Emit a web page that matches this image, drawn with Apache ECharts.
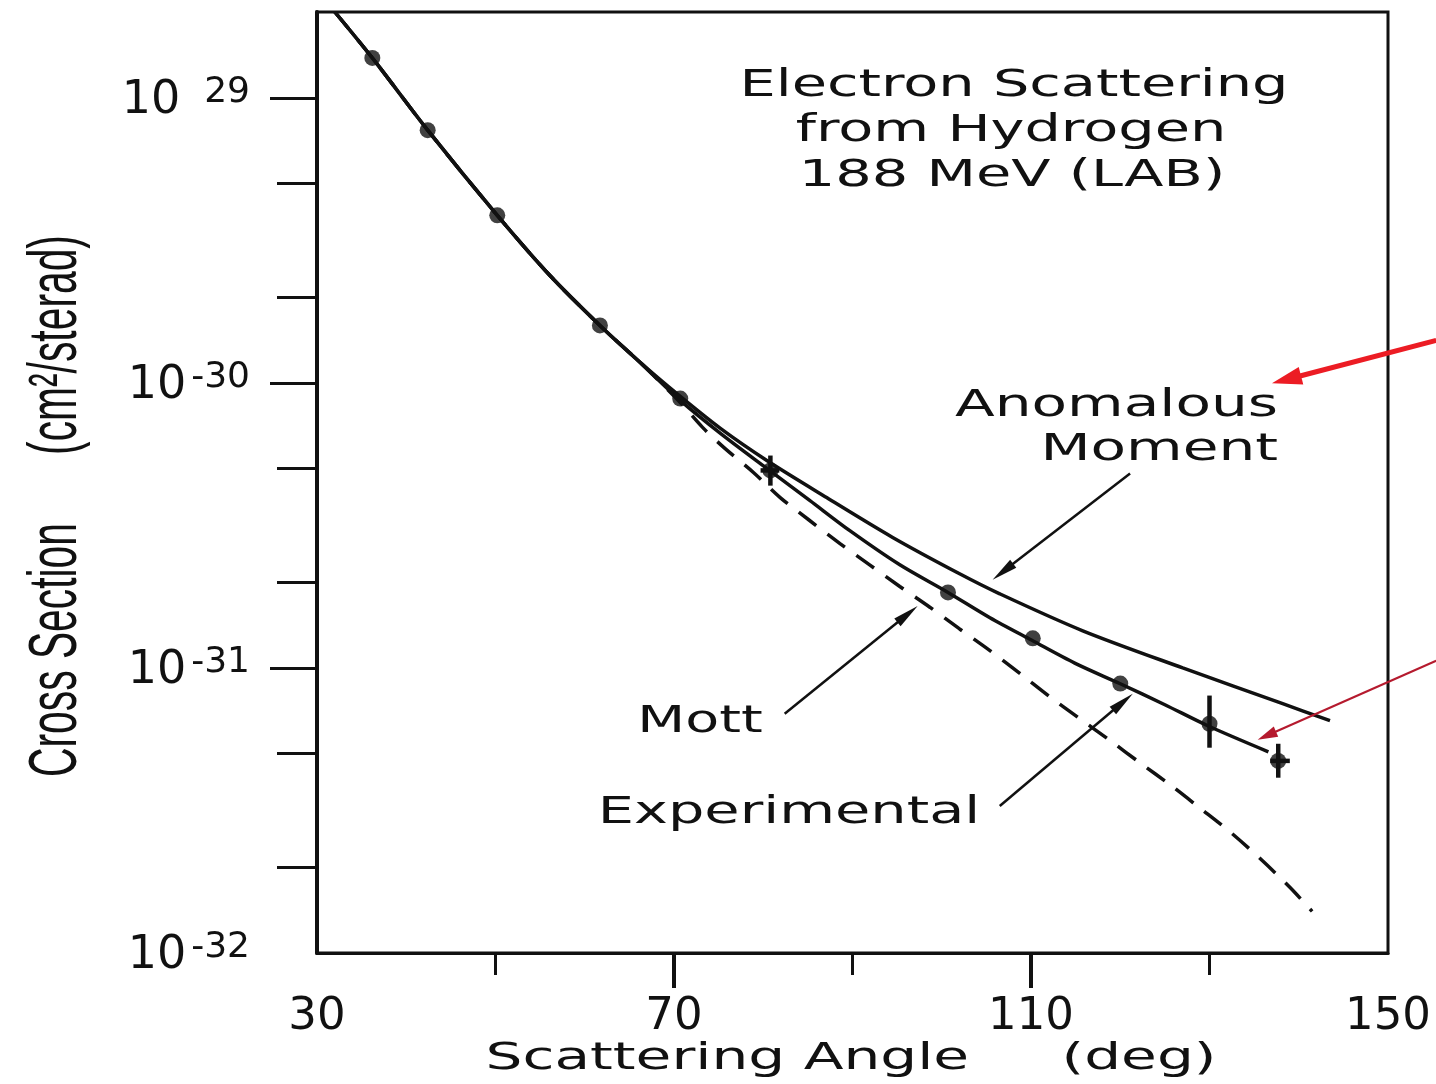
<!DOCTYPE html>
<html>
<head>
<meta charset="utf-8">
<script src="https://cdn.jsdelivr.net/npm/echarts@6/dist/echarts.min.js"></script>
<style>html,body{margin:0;padding:0;background:#fff}#c{width:1436px;height:1084px}</style>
</head>
<body>
<div id="c"></div>
<script>
// ---------- axis ticks / labels ----------
const xTickLabels = [30, 70, 110, 150];
const xMajorTicks = [70, 110];
const xMinorTicks = [50, 90, 130];
const yLabelValues = [1e-29, 1e-30, 1e-31, 1e-32];
const yLabelExponents = ['29', '-30', '-31', '-32'];
const yMajorTicks = [1e-31, 1e-30, 1e-29];
const yMinorTicks = [2e-32, 5e-32, 2e-31, 5e-31, 2e-30, 5e-30];
const yMin = 1e-32, yMax = 2e-29;

// ---------- curves (scattering angle in deg, cross section in cm^2/sterad) ----------
const anomalousAngle = [32.0, 36.2, 42.4, 50.2, 56.1, 61.7, 66.2, 70.7, 75.2, 80.4, 87.1, 94.5, 102.0, 106.5, 115.8, 127.0, 138.2, 143.5];
const anomalousXsec  = [2.00e-29, 1.38e-29, 7.70e-30, 3.87e-30, 2.38e-30, 1.59e-30, 1.18e-30, 8.96e-31, 6.92e-31, 5.34e-31, 3.96e-31, 2.87e-31, 2.14e-31, 1.82e-31, 1.35e-31, 1.00e-31, 7.49e-32, 6.53e-32];

const experimentalAngle = [32.0, 36.2, 42.4, 50.2, 56.1, 61.7, 66.2, 70.7, 75.2, 80.4, 85.2, 89.7, 95.3, 100.7, 105.4, 110.1, 114.9, 120.0, 125.0, 129.8, 136.6];
const experimentalXsec  = [2.00e-29, 1.38e-29, 7.70e-30, 3.87e-30, 2.38e-30, 1.59e-30, 1.18e-30, 8.68e-31, 6.65e-31, 5.01e-31, 3.87e-31, 3.03e-31, 2.30e-31, 1.84e-31, 1.50e-31, 1.25e-31, 1.04e-31, 8.80e-32, 7.43e-32, 6.27e-32, 5.08e-32];

const mottAngle = [32.0, 36.2, 42.4, 50.2, 56.1, 61.7, 66.2, 70.7, 73.2, 75.7, 78.9, 81.9, 85.2, 88.6, 92.0, 95.3, 98.7, 102.0, 105.4, 108.8, 112.1, 115.5, 118.9, 122.2, 125.6, 128.9, 132.3, 135.7, 139.0, 141.5];
const mottXsec  = [2.00e-29, 1.38e-29, 7.70e-30, 3.87e-30, 2.38e-30, 1.59e-30, 1.18e-30, 8.54e-31, 6.98e-31, 5.89e-31, 4.85e-31, 3.96e-31, 3.29e-31, 2.73e-31, 2.29e-31, 1.93e-31, 1.63e-31, 1.37e-31, 1.15e-31, 9.55e-32, 7.93e-32, 6.63e-32, 5.55e-32, 4.65e-32, 3.89e-32, 3.23e-32, 2.66e-32, 2.14e-32, 1.70e-32, 1.40e-32];

// ---------- measured points ----------
const pointAngle = [36.2, 42.4, 50.2, 61.7, 70.7, 80.8, 100.7, 110.2, 120.0, 130.0, 137.7];
const pointXsec  = [1.38e-29, 7.70e-30, 3.87e-30, 1.59e-30, 8.81e-31, 4.93e-31, 1.84e-31, 1.27e-31, 8.81e-32, 6.37e-32, 4.72e-32];

// ---------- error bars ----------
const errAngle = [80.8, 130.0, 137.7];
const errXsec  = [4.93e-31, 6.37e-32, 4.72e-32];
const errLow   = [4.36e-31, 5.25e-32, 4.12e-32];
const errHigh  = [5.56e-31, 8.00e-32, 5.42e-32];
const errAngleLow  = [79.7, null, 136.8];
const errAngleHigh = [81.8, null, 139.0];

// ---------- annotation arrows (data coordinates: from -> to) ----------
const arrowFrom = [[121.1, 4.81e-31], [82.4, 6.91e-32], [106.5, 3.28e-32], [155.4, 1.41e-30], [155.4, 1.06e-31]];
const arrowTo   = [[105.7, 2.04e-31], [97.3, 1.65e-31], [121.4, 8.12e-32], [137.0, 9.96e-31], [135.4, 5.60e-32]];

// y axis is logarithmic: values are plotted as log10 on the value scale
const lg = v => Math.log10(v);
const zipLog = (a, b) => a.map((v, i) => [v, lg(b[i])]);
const FONT = '"DejaVu Sans", sans-serif';
const INK = '#111';

const chart = echarts.init(document.getElementById('c'), null, {renderer: 'canvas'});

function yLabel(v) {
  let idx = 0, best = 1e9;
  yLabelValues.forEach((t, i) => { const d = Math.abs(lg(t) - v); if (d < best) { best = d; idx = i; } });
  const e = yLabelExponents[idx];
  return '{b|10}{' + (e.charAt(0) === '-' ? 's' : 'g') + '|' + e + '}';
}

const option = {
  animation: false,
  backgroundColor: '#fff',
  grid: {left: 317, top: 12, width: 1071, height: 941, show: true, borderColor: INK, borderWidth: 3, backgroundColor: 'transparent'},
  xAxis: [
    {
      type: 'value', min: 30, max: 150, position: 'bottom',
      axisLine: {show: true, lineStyle: {color: INK, width: 3}},
      axisTick: {show: true, inside: false, length: 35, lineStyle: {color: INK, width: 4}, customValues: xMajorTicks},
      axisLabel: {show: true, margin: 42, fontSize: 45, fontFamily: FONT, color: INK, customValues: xTickLabels, showMinLabel: true, showMaxLabel: true},
      splitLine: {show: false}
    },
    {
      type: 'value', min: 30, max: 150, position: 'bottom',
      axisLine: {show: false},
      axisTick: {show: true, inside: false, length: 22, lineStyle: {color: INK, width: 3}, customValues: xMinorTicks},
      axisLabel: {show: false},
      splitLine: {show: false}
    }
  ],
  yAxis: [
    {
      type: 'value', min: lg(yMin), max: lg(yMax), position: 'left',
      axisLine: {show: true, lineStyle: {color: INK, width: 4}},
      axisTick: {show: true, inside: false, length: 47, lineStyle: {color: INK, width: 3}, customValues: yMajorTicks.map(lg)},
      axisLabel: {
        show: true, margin: 67, customValues: yLabelValues.map(lg), showMinLabel: true, showMaxLabel: true,
        formatter: yLabel,
        rich: {
          b: {fontSize: 46, fontFamily: FONT, color: INK, lineHeight: 54, padding: [6, 0, 0, 0]},
          s: {fontSize: 36, fontFamily: FONT, color: INK, lineHeight: 36, verticalAlign: 'top', padding: [4, 0, 0, 5]},
          g: {fontSize: 36, fontFamily: FONT, color: INK, lineHeight: 36, verticalAlign: 'top', padding: [4, 0, 0, 24]}
        }
      },
      splitLine: {show: false}
    },
    {
      type: 'value', min: lg(yMin), max: lg(yMax), position: 'left',
      axisLine: {show: false},
      axisTick: {show: true, inside: false, length: 40, lineStyle: {color: INK, width: 3}, customValues: yMinorTicks.map(lg)},
      axisLabel: {show: false},
      splitLine: {show: false}
    }
  ],
  series: [
    {
      name: 'Anomalous Moment', type: 'line', xAxisIndex: 0, yAxisIndex: 0,
      data: zipLog(anomalousAngle, anomalousXsec), symbol: 'none', smooth: 0.3,
      lineStyle: {color: INK, width: 3.5}, z: 3
    },
    {
      name: 'Experimental', type: 'line', xAxisIndex: 0, yAxisIndex: 0,
      data: zipLog(experimentalAngle, experimentalXsec), symbol: 'none', smooth: 0.3,
      lineStyle: {color: INK, width: 3.5}, z: 3
    },
    {
      name: 'Mott', type: 'line', xAxisIndex: 0, yAxisIndex: 0,
      data: zipLog(mottAngle, mottXsec), symbol: 'none', smooth: 0.3,
      lineStyle: {color: INK, width: 3.5, type: [22, 14]}, z: 3
    },
    {
      name: 'Data', type: 'scatter', xAxisIndex: 0, yAxisIndex: 0,
      data: zipLog(pointAngle, pointXsec), symbol: 'circle', symbolSize: 16,
      itemStyle: {color: INK}, z: 4
    },
    {
      name: 'Errors', type: 'custom', xAxisIndex: 0, yAxisIndex: 0,
      data: errAngle.map((x, i) => [x, lg(errLow[i]), lg(errHigh[i])]),
      renderItem: function (params, api) {
        const i = params.dataIndex;
        const a = api.coord([errAngle[i], lg(errLow[i])]);
        const b = api.coord([errAngle[i], lg(errHigh[i])]);
        const children = [{type: 'line', shape: {x1: a[0], y1: a[1], x2: b[0], y2: b[1]}, style: {stroke: INK, lineWidth: 4.5}}];
        if (errAngleLow[i] !== null) {
          const c = api.coord([errAngleLow[i], lg(errXsec[i])]);
          const d = api.coord([errAngleHigh[i], lg(errXsec[i])]);
          children.push({type: 'line', shape: {x1: c[0], y1: c[1], x2: d[0], y2: d[1]}, style: {stroke: INK, lineWidth: 4.5}});
        }
        return {type: 'group', children: children};
      },
      z: 4
    }
  ]
};

chart.setOption(option);

// ---------- annotations ----------
function txt(text, x, y, size, sx, align, family, rot) {
  return {
    type: 'text', x: x, y: y, scaleX: sx, rotation: rot || 0, z: 50,
    style: {
      text: text, font: size + 'px ' + (family || FONT), fill: INK,
      align: align, verticalAlign: 'middle', textAlign: align, textVerticalAlign: 'middle'
    }
  };
}
function arrowEls(p0, p1, lw, color, hl, hw) {
  const dx = p1[0] - p0[0], dy = p1[1] - p0[1];
  const L = Math.hypot(dx, dy), ux = dx / L, uy = dy / L;
  const bx = p1[0] - ux * hl, by = p1[1] - uy * hl;
  const nx = -uy, ny = ux;
  return [
    {type: 'line', z: 60, shape: {x1: p0[0], y1: p0[1], x2: bx + ux * 3, y2: by + uy * 3}, style: {stroke: color, lineWidth: lw}},
    {type: 'polygon', z: 60, shape: {points: [[p1[0], p1[1]], [bx + nx * hw / 2, by + ny * hw / 2], [bx - nx * hw / 2, by - ny * hw / 2]]}, style: {fill: color}}
  ];
}
const arrowLook = [
  {lw: 2.5, color: INK, hl: 26, hw: 10},
  {lw: 2.5, color: INK, hl: 26, hw: 10},
  {lw: 2.5, color: INK, hl: 26, hw: 10},
  {lw: 5, color: '#ec1c24', hl: 30, hw: 18},
  {lw: 2.2, color: '#b51a2e', hl: 20, hw: 11}
];

const els = [
  txt('Electron Scattering', 1014, 86, 37, 1.55, 'center'),
  txt('from Hydrogen', 1011, 131, 37, 1.55, 'center'),
  txt('188 MeV (LAB)', 1012, 176, 37, 1.55, 'center'),
  txt('Anomalous', 1278, 406, 37, 1.57, 'right'),
  txt('Moment', 1278, 450, 37, 1.57, 'right'),
  txt('Mott', 700, 722, 37, 1.5, 'center'),
  txt('Experimental', 789, 813, 37, 1.55, 'center'),
  txt('Scattering Angle     (deg)', 851, 1059, 38, 1.53, 'center'),
  txt('Cross Section', 57, 650, 68, 0.6, 'center', '"Liberation Sans", Arial, sans-serif', Math.PI / 2),
  txt('(cm²/sterad)', 57, 345, 68, 0.6, 'center', '"Liberation Sans", Arial, sans-serif', Math.PI / 2)
];
arrowFrom.forEach((f, i) => {
  const p0 = chart.convertToPixel({xAxisIndex: 0, yAxisIndex: 0}, [f[0], lg(f[1])]);
  const p1 = chart.convertToPixel({xAxisIndex: 0, yAxisIndex: 0}, [arrowTo[i][0], lg(arrowTo[i][1])]);
  const s = arrowLook[i];
  arrowEls(p0, p1, s.lw, s.color, s.hl, s.hw).forEach(e => els.push(e));
});
chart.setOption({graphic: {elements: els}});
</script>
</body>
</html>
